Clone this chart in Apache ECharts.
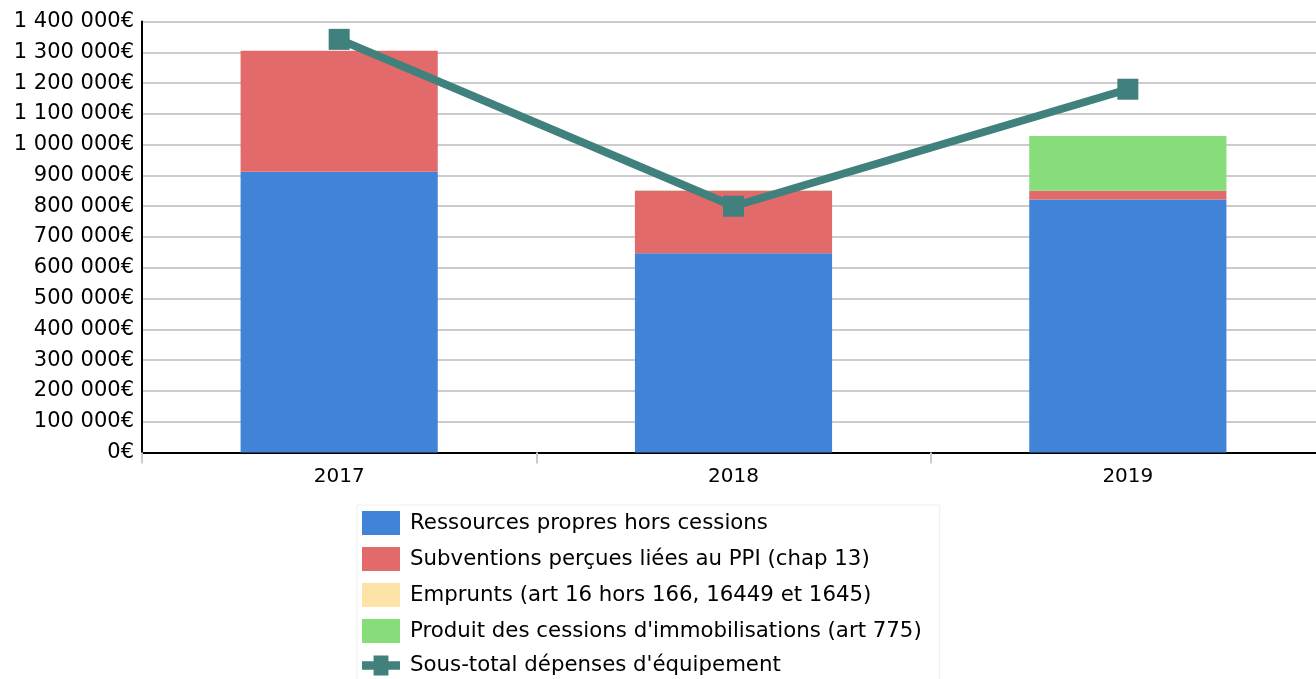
<!DOCTYPE html>
<html>
<head>
<meta charset="utf-8">
<script src="https://cdn.jsdelivr.net/npm/echarts@6/dist/echarts.min.js"></script>
<style>html,body{margin:0;padding:0;background:#fff;width:1316px;height:679px;overflow:hidden;}#c{width:1325px;height:679px;}</style>
</head>
<body>
<div id="c"></div>
<script>
const categories = ['2017', '2018', '2019'];
const ressources = [912000, 647000, 822000];
const subventions = [393000, 203000, 28000];
const emprunts = [0, 0, 0];
const cessions = [0, 1000, 178000];
const sousTotal = [1342000, 800000, 1180000];
const seriesNames = [
  'Ressources propres hors cessions',
  'Subventions perçues liées au PPI (chap 13)',
  'Emprunts (art 16 hors 166, 16449 et 1645)',
  "Produit des cessions d'immobilisations (art 775)",
  "Sous-total dépenses d'équipement"
];

function fmt(v) {
  return String(v).replace(/\B(?=(\d{3})+(?!\d))/g, ' ') + '€';
}

const chart = echarts.init(document.getElementById('c'), null, {renderer: 'canvas'});
const font = 'DejaVu Sans';
const barCommon = {type: 'bar', stack: 'total', barWidth: '50%'};
const lineIcon = 'path://M0,7H14V0H32V7H46V17H32V24H14V17H0Z';
chart.setOption({
  animation: false,
  textStyle: {fontFamily: font},
  grid: {left: 142, right: 0, top: 21.5, bottom: 226.5, containLabel: false},
  xAxis: {
    type: 'category',
    data: categories,
    axisLine: {lineStyle: {color: '#000', width: 2}},
    axisTick: {show: true, length: 11, lineStyle: {color: '#ccc', width: 2}},
    axisLabel: {color: '#000', fontSize: 20, fontFamily: font, margin: 14}
  },
  yAxis: {
    type: 'value',
    min: 0, max: 1400000, interval: 100000,
    axisLine: {show: true, lineStyle: {color: '#000', width: 2}},
    axisTick: {show: false},
    splitLine: {lineStyle: {color: '#ccc', width: 2}},
    axisLabel: {color: '#000', fontSize: 21, fontFamily: font, margin: 8, formatter: fmt}
  },
  legend: {
    orient: 'vertical',
    left: 357, top: 505, height: 400,
    padding: [6, 18, 6, 5],
    itemWidth: 38, itemHeight: 24, itemGap: 12,
    borderColor: '#eee', borderWidth: 1,
    textStyle: {fontSize: 21.3, fontFamily: font, color: '#000', padding: [3, 0, 0, 5]},
    data: [
      {name: seriesNames[0], icon: 'rect'},
      {name: seriesNames[1], icon: 'rect'},
      {name: seriesNames[2], icon: 'rect'},
      {name: seriesNames[3], icon: 'rect'},
      {name: seriesNames[4], icon: lineIcon}
    ]
  },
  series: [
    Object.assign({}, barCommon, {name: seriesNames[0], data: ressources, itemStyle: {color: '#4183d7'}}),
    Object.assign({}, barCommon, {name: seriesNames[1], data: subventions, itemStyle: {color: '#e26a6a'}}),
    Object.assign({}, barCommon, {name: seriesNames[2], data: emprunts, itemStyle: {color: '#fde3a7'}}),
    Object.assign({}, barCommon, {name: seriesNames[3], data: cessions, itemStyle: {color: '#87dd7a'}}),
    {
      type: 'line', name: seriesNames[4], data: sousTotal,
      symbol: 'rect', symbolSize: 21,
      lineStyle: {color: '#40807d', width: 8},
      itemStyle: {color: '#40807d'}
    }
  ]
});
</script>
</body>
</html>
